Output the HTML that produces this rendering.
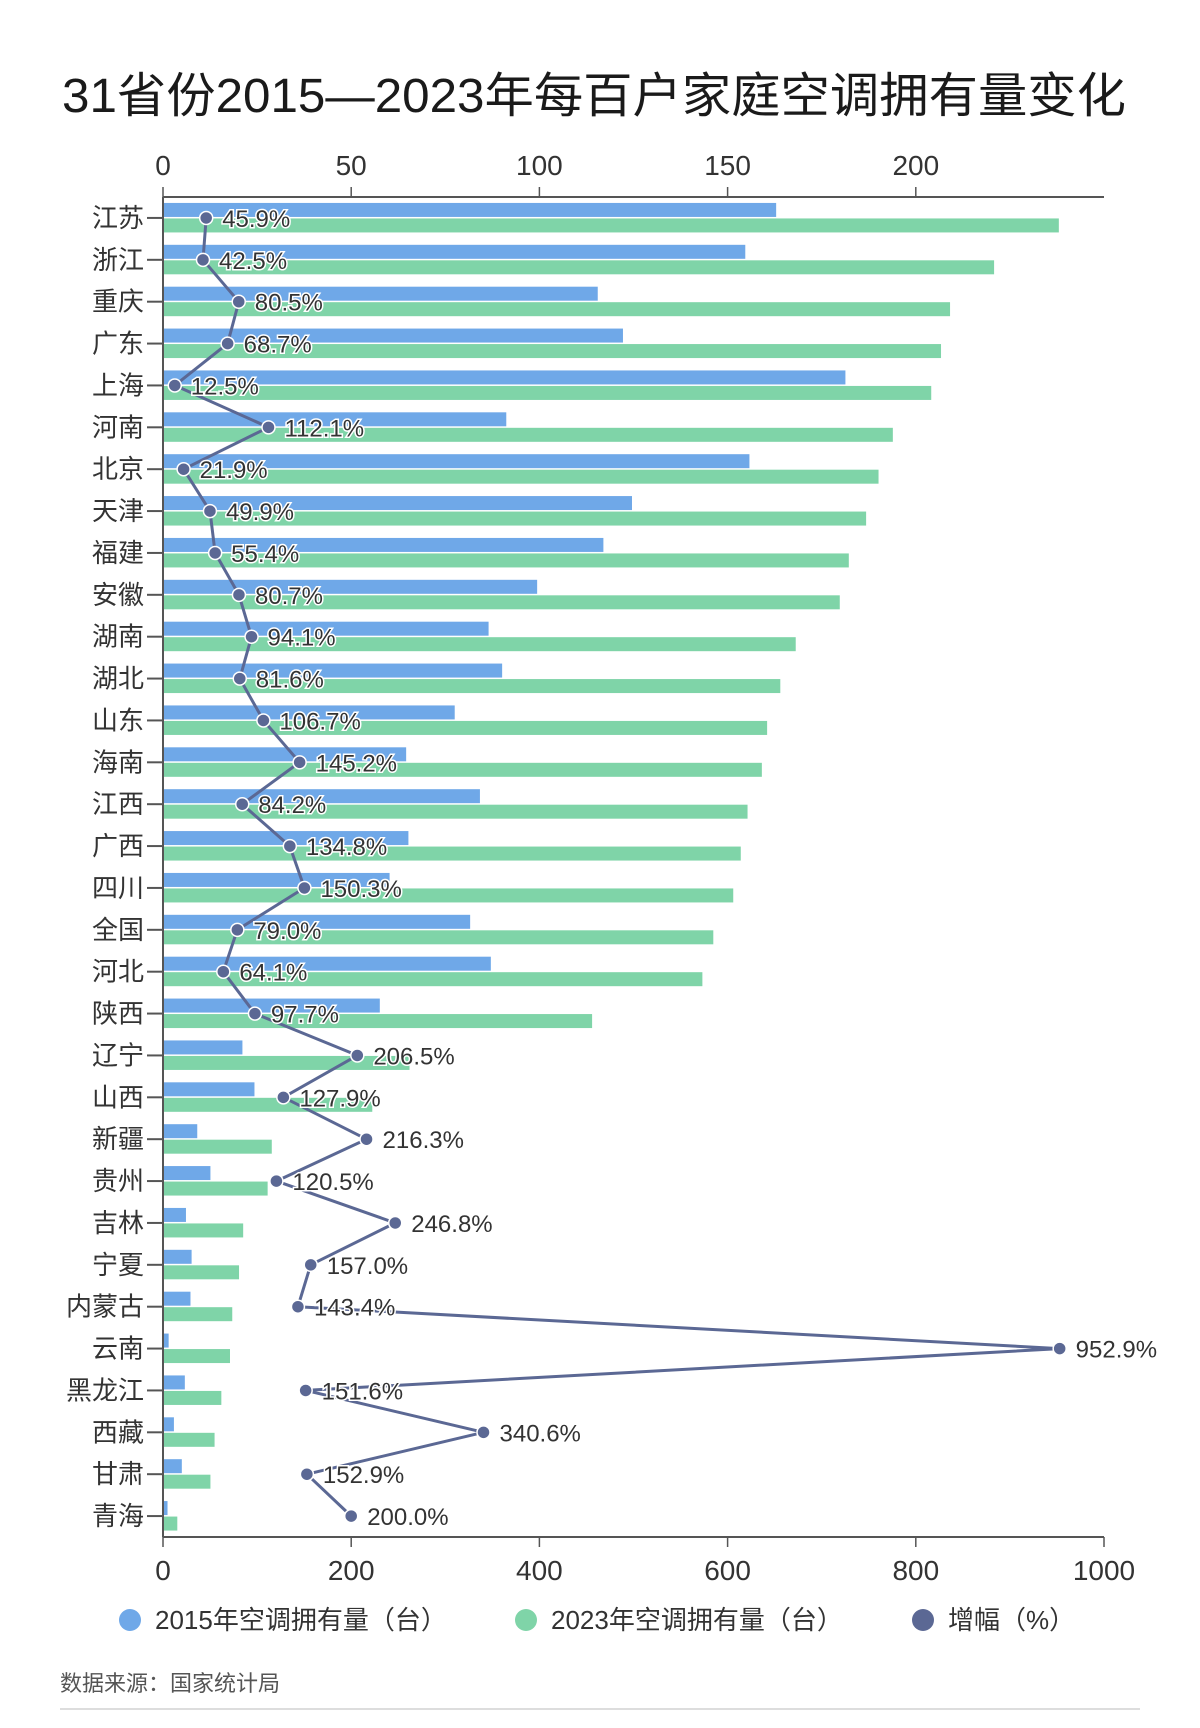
<!DOCTYPE html>
<html><head><meta charset="utf-8">
<style>
html,body{margin:0;padding:0;background:#fff;}
svg{display:block;font-family:"Liberation Sans","Noto Sans CJK SC",sans-serif;}
</style></head>
<body>
<svg id="chart" width="1200" height="1728" viewBox="0 0 1200 1728" xmlns="http://www.w3.org/2000/svg">
<text x="62" y="112" font-size="48" fill="#1a1a1a" textLength="1064" lengthAdjust="spacingAndGlyphs">31省份2015—2023年每百户家庭空调拥有量变化</text>
<g id="plot"></g>
<g>
<g><circle cx="130" cy="1620" r="11" fill="#6fa8e8"/><text x="155" y="1629" font-size="26" fill="#333">2015年空调拥有量（台）</text></g>
<g><circle cx="526" cy="1620" r="11" fill="#7fd4a8"/><text x="551" y="1629" font-size="26" fill="#333">2023年空调拥有量（台）</text></g>
<g><circle cx="923" cy="1620" r="11" fill="#5b6894"/><text x="948" y="1629" font-size="26" fill="#333">增幅（%）</text></g>
</g>
<text x="60" y="1691" font-size="22" fill="#555">数据来源：国家统计局</text>
<line x1="60" y1="1709" x2="1140" y2="1709" stroke="#ddd" stroke-width="2"/>
</svg>
<script>
const categories=["江苏","浙江","重庆","广东","上海","河南","北京","天津","福建","安徽","湖南","湖北","山东","海南","江西","广西","四川","全国","河北","陕西","辽宁","山西","新疆","贵州","吉林","宁夏","内蒙古","云南","黑龙江","西藏","甘肃","青海"].slice(0,31);
const v2015=[162.9,154.7,115.5,122.2,181.3,91.2,155.8,124.6,117.0,99.4,86.5,90.1,77.5,64.6,84.2,65.2,60.2,81.6,87.1,57.6,21.1,24.3,9.1,12.6,6.1,7.6,7.3,1.5,5.8,2.9,5.0,1.2];
const v2023=[238.0,220.8,209.1,206.7,204.1,193.9,190.1,186.8,182.2,179.8,168.1,164.0,160.5,159.1,155.3,153.5,151.5,146.2,143.3,114.0,65.5,55.6,28.9,27.8,21.3,20.2,18.4,17.8,15.5,13.7,12.6,3.8];
const growth=[45.9,42.5,80.5,68.7,12.5,112.1,21.9,49.9,55.4,80.7,94.1,81.6,106.7,145.2,84.2,134.8,150.3,79.0,64.1,97.7,206.5,127.9,216.3,120.5,246.8,157.0,143.4,952.9,151.6,340.6,152.9,200.0];
const topTicks=[0,50,100,150,200];
const bottomTicks=[0,200,400,600,800,1000];
</script>
<script>
// fix categories list (31 provinces incl. 全国 + 青海)
categories.length=0;
["江苏","浙江","重庆","广东","上海","河南","北京","天津","福建","安徽","湖南","湖北","山东","海南","江西","广西","四川","全国","河北","陕西","辽宁","山西","新疆","贵州","吉林","宁夏","内蒙古","云南","黑龙江","西藏","甘肃","青海"].forEach(c=>categories.push(c));
const NS="http://www.w3.org/2000/svg";
const plot=document.getElementById('plot');
const X0=163,X1=1104,Y0=197,Y1=1537;
const n=categories.length;
const band=(Y1-Y0)/n;
const xTop=v=>X0+(X1-X0)*v/250;
const xBot=v=>X0+(X1-X0)*v/1000;
const yC=i=>Y0+band*(i+0.5);
function mk(tag,attrs,parent){const e=document.createElementNS(NS,tag);for(const k in attrs)e.setAttribute(k,attrs[k]);(parent||plot).appendChild(e);return e;}
// bars
categories.forEach((c,i)=>{
  const b1=mk('rect',{x:X0,y:yC(i)-15,width:xTop(v2015[i])-X0,height:14,fill:'#6fa8e8'});
  
  
  const b2=mk('rect',{x:X0,y:yC(i)+0.5,width:xTop(v2023[i])-X0,height:14,fill:'#7fd4a8'});
  
  
  const t=mk('line',{x1:X0-16,x2:X0,y1:yC(i),y2:yC(i),stroke:'#555','stroke-width':2});
  
  
  const l=mk('text',{x:X0-19,y:yC(i)+9,'font-size':26,fill:'#333','text-anchor':'end'});
  l.textContent=c;
  
  
});
// axes
const ax1=mk('line',{x1:X0,x2:X1,y1:Y0,y2:Y0,stroke:'#555','stroke-width':2});


const ax2=mk('line',{x1:X0,x2:X1,y1:Y1,y2:Y1,stroke:'#555','stroke-width':2});


const ax3=mk('line',{x1:X0,x2:X0,y1:Y0,y2:Y1,stroke:'#555','stroke-width':2});


topTicks.forEach(v=>{
  const tk=mk('line',{x1:xTop(v),x2:xTop(v),y1:Y0-10,y2:Y0,stroke:'#555','stroke-width':1.5});
  
  
  const t=mk('text',{x:xTop(v),y:175,'font-size':28,fill:'#333','text-anchor':'middle'});
  t.textContent=v;
  
  
});
bottomTicks.forEach(v=>{
  const tk=mk('line',{x1:xBot(v),x2:xBot(v),y1:Y1,y2:Y1+10,stroke:'#555','stroke-width':1.5});
  
  
  const t=mk('text',{x:xBot(v),y:1580,'font-size':28,fill:'#333','text-anchor':'middle'});
  t.textContent=v;
  
  
});
// growth line
const pts=growth.map((g,i)=>xBot(g).toFixed(1)+','+yC(i).toFixed(1)).join(' ');
const pl=mk('polyline',{points:pts,fill:'none',stroke:'#5b6894','stroke-width':3,'stroke-linejoin':'round'});


growth.forEach((g,i)=>{
  const d=mk('circle',{cx:xBot(g),cy:yC(i),r:6.5,fill:'#5b6894',stroke:'#fff','stroke-width':1.5});
  
  
  const t=mk('text',{x:xBot(g)+16,y:yC(i)+9,'font-size':24,fill:'#333',stroke:'#fff','stroke-width':3,'paint-order':'stroke'});
  t.textContent=g.toFixed(1)+'%';
  
  
});
</script>
</body></html>
